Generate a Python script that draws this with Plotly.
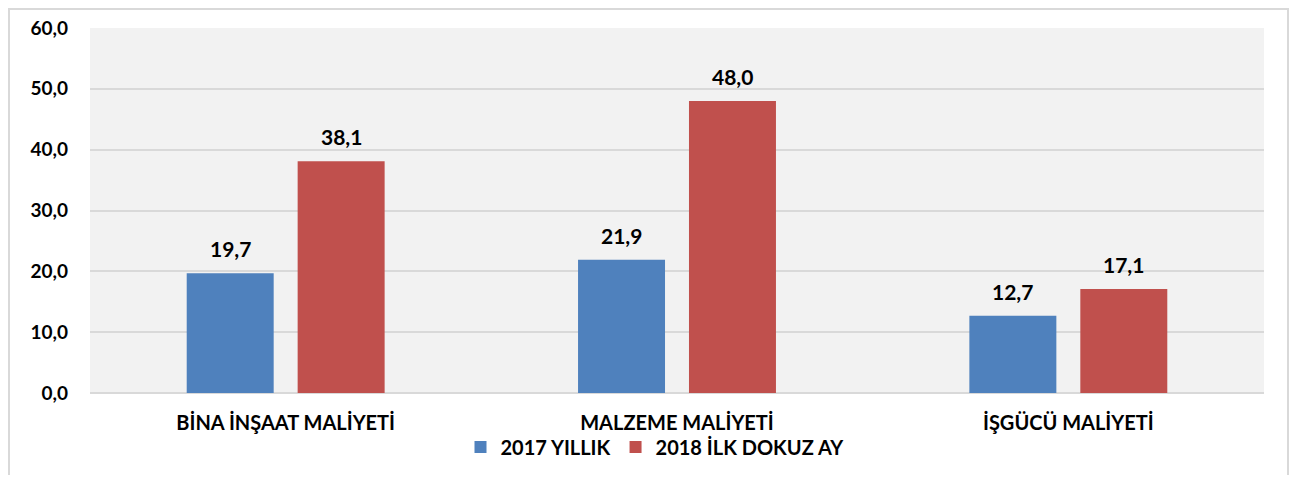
import plotly.graph_objects as go

categories = ["BİNA İNŞAAT MALİYETİ", "MALZEME MALİYETİ", "İŞGÜCÜ MALİYETİ"]
series_names = ["2017 YILLIK", "2018 İLK DOKUZ AY"]
values_2017 = [19.7, 21.9, 12.7]
values_2018 = [38.1, 48.0, 17.1]
colors = ["#4f81bd", "#c0504d"]
y_ticks = [0, 10, 20, 30, 40, 50, 60]

FONT = "Lato"
OFF = 8  # page body margin

W, H = 1297 - 2 * OFF, 483 - 2 * OFF
L = 90 - OFF
R = W - (1264 - OFF)
T = 28 - OFF
B = H - (393 - OFF)
pw, ph = W - L - R, H - T - B


def px(x):
    return (x - OFF - L) / pw


def py(y):
    return (H - B - (y - OFF)) / ph


fig = go.Figure()
for name, vals, col in zip(series_names, [values_2017, values_2018], colors):
    fig.add_trace(go.Bar(
        x=categories, y=vals, name=name,
        marker=dict(color=col, line=dict(width=0)),
    ))

annotations = []
for shift, vals in zip([-55.5, 55.5], [values_2017, values_2018]):
    for c, v in zip(categories, vals):
        annotations.append(dict(
            x=c, y=v, xref="x", yref="y", xshift=shift, yshift=10,
            text="<b>" + f"{v:.1f}".replace(".", ",") + "</b>",
            showarrow=False, yanchor="bottom", xanchor="center",
            font=dict(size=21, family=FONT, color="#000000"),
        ))

fig.update_layout(
    width=W, height=H,
    margin=dict(l=L, r=R, t=T, b=B, autoexpand=False),
    paper_bgcolor="#ffffff", plot_bgcolor="#f2f2f2",
    separators=",.",
    barmode="group", bargap=0.433, bargroupgap=0.216,
    font=dict(family=FONT, color="#000000"),
    showlegend=True,
    legend=dict(orientation="h", x=px(655), xanchor="center", y=py(447), yanchor="middle",
                font=dict(size=20, family=FONT, weight="bold"), traceorder="normal",
                itemwidth=30, bgcolor="rgba(0,0,0,0)"),
    xaxis=dict(showgrid=False, showline=False, ticks="", ticklabelstandoff=16, automargin=False,
               tickfont=dict(size=20, family=FONT, weight="bold", color="#000000")),
    yaxis=dict(range=[0, 60], tickvals=y_ticks, tickformat=".1f", automargin=False,
               showgrid=True, gridcolor="#d9d9d9", gridwidth=2,
               zeroline=True, zerolinecolor="#d9d9d9", zerolinewidth=2,
               showline=False, ticks="", ticklabelstandoff=21,
               tickfont=dict(size=19, family=FONT, weight="bold", color="#000000")),
    annotations=annotations,
    shapes=[dict(type="rect", xref="paper", yref="paper",
                 x0=px(OFF + 1), x1=px(1297 - OFF - 1), y0=py(520), y1=py(OFF + 1),
                 line=dict(color="#d9d9d9", width=2), fillcolor="rgba(0,0,0,0)", layer="below")],
)

fig.write_html("out.html")
